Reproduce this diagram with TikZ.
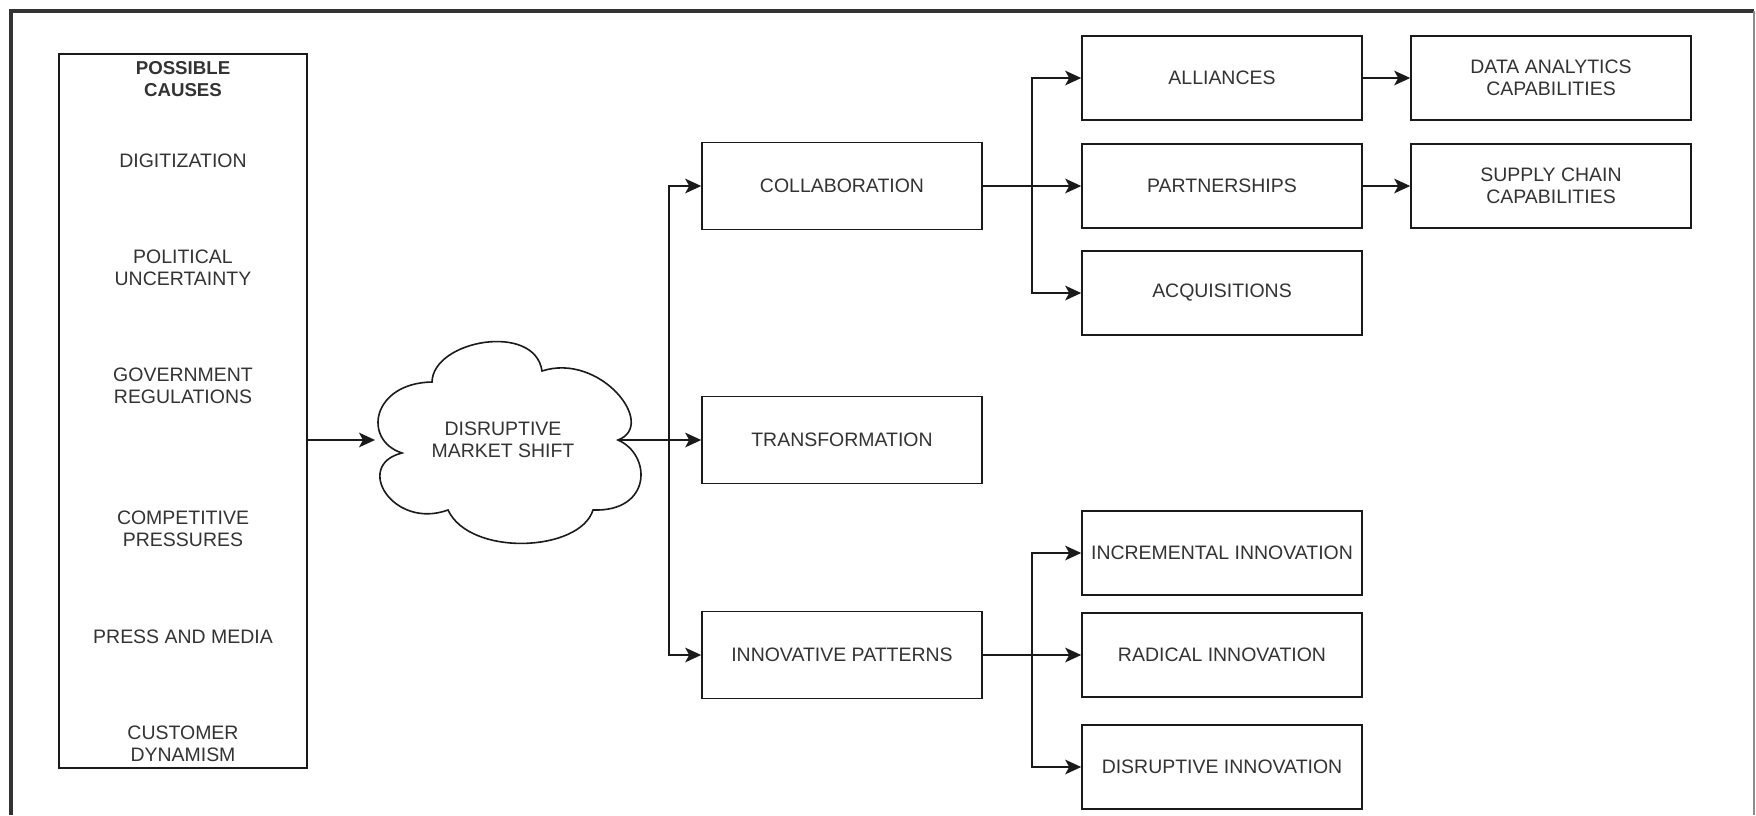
\documentclass[tikz,border=0pt]{standalone}
\usepackage{fontspec}
\setmainfont{Liberation Sans}
\usetikzlibrary{arrows.meta}
\definecolor{txt}{HTML}{333333}
\definecolor{ln}{HTML}{1A1A1A}
\newcommand\diafont{\fontsize{14.6}{16.8}\selectfont}
\begin{document}
\begin{tikzpicture}[x=0.75pt, y=-0.75pt,
  box/.style={draw=ln, line width=1.2pt, minimum width=210pt, minimum height=63pt, inner sep=2pt, align=center, text=txt, font=\diafont},
  midbox/.style={box, minimum height=65pt},
  lbl/.style={text=txt, align=center, font=\diafont, inner sep=0pt},
  arr/.style={draw=ln, line width=1.2pt, -{Stealth[length=12pt,width=11pt,inset=3pt]}},
  ln/.style={draw=ln, line width=1.2pt}]
\useasboundingbox (0,0) rectangle (1756,815);
\fill[white] (0,0) rectangle (1756,815);
% frame
\draw[line width=2.8pt, color=black!80] (11,815) -- (11,11) -- (1754,11);
\draw[line width=1.4pt, color=black!45] (1754,11) -- (1754,815);

% causes box
\node[draw=ln, line width=1.2pt, minimum width=186pt, minimum height=535.5pt, inner sep=0pt] (causes) at (183,411) {};
\node[lbl, font=\fontsize{14}{16.8}\selectfont\bfseries] (pc) at (183,79) {POSSIBLE\\CAUSES};
\node[lbl] (dig) at (183,161) {DIGITIZATION};
\node[lbl] (pol) at (183,268) {POLITICAL\\UNCERTAINTY};
\node[lbl] (gov) at (183,386) {GOVERNMENT\\REGULATIONS};
\node[lbl] (comp) at (183,529) {COMPETITIVE\\PRESSURES};
\node[lbl] (press) at (183,637) {PRESS AND MEDIA};
\node[lbl] (cust) at (183,744) {CUSTOMER\\DYNAMISM};

% cloud
\draw[ln, fill=white] (432,382) .. controls (433,340) and (535,322) .. (542,371)
  .. controls (600,352) and (658,425) .. (618,440)
  .. controls (652,455) and (652,512) .. (593,510)
  .. controls (580,552) and (470,557) .. (448,510)
  .. controls (393,530) and (353,465) .. (402,453)
  .. controls (362,440) and (372,383) .. cycle;
\coordinate (cloudW) at (375,440);
\coordinate (cloudE) at (618,440);
\node[lbl] (cloud) at (503,440) {DISRUPTIVE\\MARKET SHIFT};

% middle boxes
\node[midbox] (collab) at (842,186) {COLLABORATION};
\node[midbox] (trans) at (842,440) {TRANSFORMATION};
\node[midbox] (innov) at (842,655) {INNOVATIVE PATTERNS};

% right boxes
\node[box] (all) at (1222,78) {ALLIANCES};
\node[box] (part) at (1222,186) {PARTNERSHIPS};
\node[box] (acq) at (1222,293) {ACQUISITIONS};
\node[box] (data) at (1551,78) {DATA ANALYTICS\\CAPABILITIES};
\node[box] (supp) at (1551,186) {SUPPLY CHAIN\\CAPABILITIES};
\node[box] (inc) at (1222,553) {INCREMENTAL INNOVATION};
\node[box] (rad) at (1222,655) {RADICAL INNOVATION};
\node[box] (dis) at (1222,767) {DISRUPTIVE INNOVATION};

% junction x positions
\coordinate (jA) at (669,0);
\coordinate (jB) at (1032,0);

% connectors
\draw[arr] (causes.east |- cloudW) -- (cloudW);
\draw[arr] (cloudE) -- (trans.west);
\draw[arr] (cloudE) -- (cloudE -| jA) |- (collab.west);
\draw[arr] (cloudE) -- (cloudE -| jA) |- (innov.west);

\draw[arr] (collab.east) -- (collab.east -| jB) |- (all.west);
\draw[arr] (collab.east) -- (part.west);
\draw[arr] (collab.east) -- (collab.east -| jB) |- (acq.west);
\draw[arr] (all.east) -- (data.west);
\draw[arr] (part.east) -- (supp.west);

\draw[arr] (innov.east) -- (innov.east -| jB) |- (inc.west);
\draw[arr] (innov.east) -- (rad.west);
\draw[arr] (innov.east) -- (innov.east -| jB) |- (dis.west);
\end{tikzpicture}
\end{document}
